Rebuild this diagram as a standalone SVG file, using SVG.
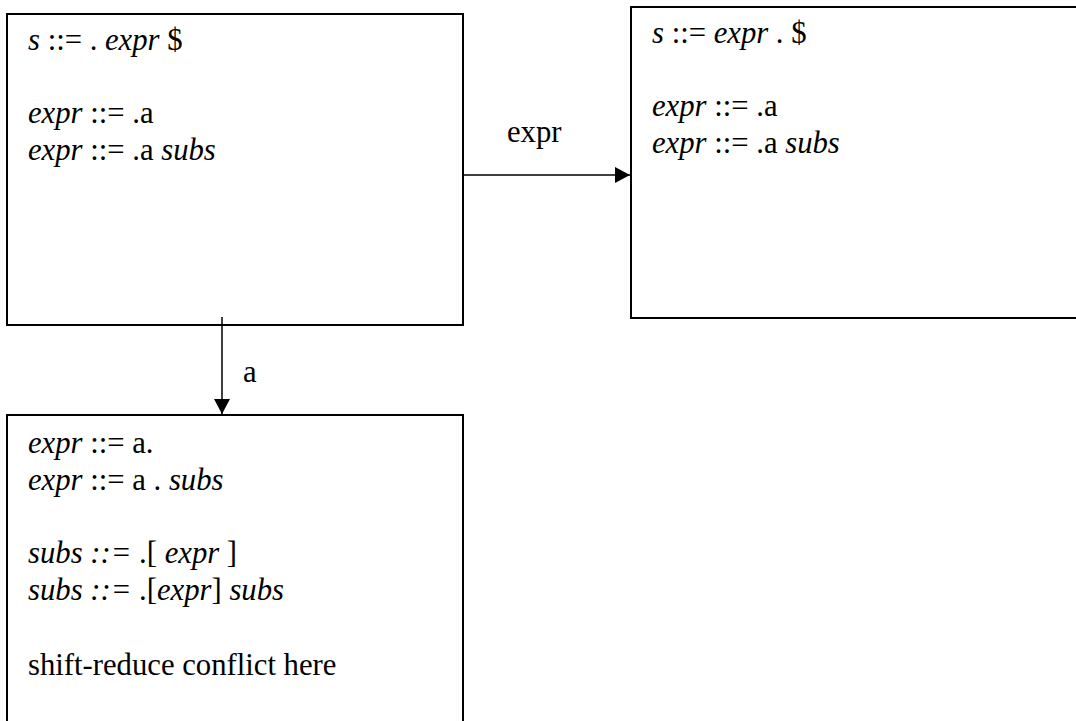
<svg xmlns="http://www.w3.org/2000/svg" width="1076" height="721" viewBox="0 0 1076 721">
<style>
.box{fill:#fff;stroke:#000;stroke-width:2}
.t{font-family:"Liberation Serif","Times New Roman",serif;font-size:30.7px;fill:#000}
.i{font-style:italic}
.edge{stroke:#000;stroke-width:1.5;fill:none}
</style>
<defs>
<marker id="arr" markerWidth="15" markerHeight="16" refX="15" refY="8" orient="auto" markerUnits="userSpaceOnUse">
<path d="M0,0 L15,8 L0,16 Z" fill="#000"/>
</marker>
</defs>
<rect width="1076" height="721" fill="#fff"/>
<g id="state0">
<rect class="box" x="7" y="14" width="456" height="311"/>
<text class="t" x="28" y="50"><tspan class="i">s</tspan> ::= . <tspan class="i">expr</tspan> $</text>
<text class="t" x="28" y="123"><tspan class="i">expr</tspan> ::= .a</text>
<text class="t" x="28" y="160"><tspan class="i">expr</tspan> ::= .a <tspan class="i">subs</tspan></text>
</g>
<g id="state1">
<rect class="box" x="631" y="7" width="460" height="311"/>
<text class="t" x="652" y="43"><tspan class="i">s</tspan> ::= <tspan class="i">expr</tspan> . $</text>
<text class="t" x="652" y="116"><tspan class="i">expr</tspan> ::= .a</text>
<text class="t" x="652" y="153"><tspan class="i">expr</tspan> ::= .a <tspan class="i">subs</tspan></text>
</g>
<g id="state2">
<rect class="box" x="7" y="415" width="456" height="320"/>
<text class="t" x="28" y="453"><tspan class="i">expr</tspan> ::= a.</text>
<text class="t" x="28" y="490"><tspan class="i">expr</tspan> ::= a . <tspan class="i">subs</tspan></text>
<text class="t" x="28" y="563"><tspan class="i">subs ::=</tspan> .[ <tspan class="i">expr</tspan> ]</text>
<text class="t" x="28" y="600"><tspan class="i">subs ::=</tspan> .[<tspan class="i">expr</tspan>] <tspan class="i">subs</tspan></text>
<text class="t" x="28" y="675">shift-reduce conflict here</text>
</g>
<g id="connectors">
<line class="edge" x1="463" y1="175" x2="630" y2="175" marker-end="url(#arr)"/>
<text class="t" x="507" y="142">expr</text>
<line class="edge" x1="222" y1="317" x2="222" y2="414" marker-end="url(#arr)"/>
<text class="t" x="243" y="382">a</text>
</g>
</svg>
